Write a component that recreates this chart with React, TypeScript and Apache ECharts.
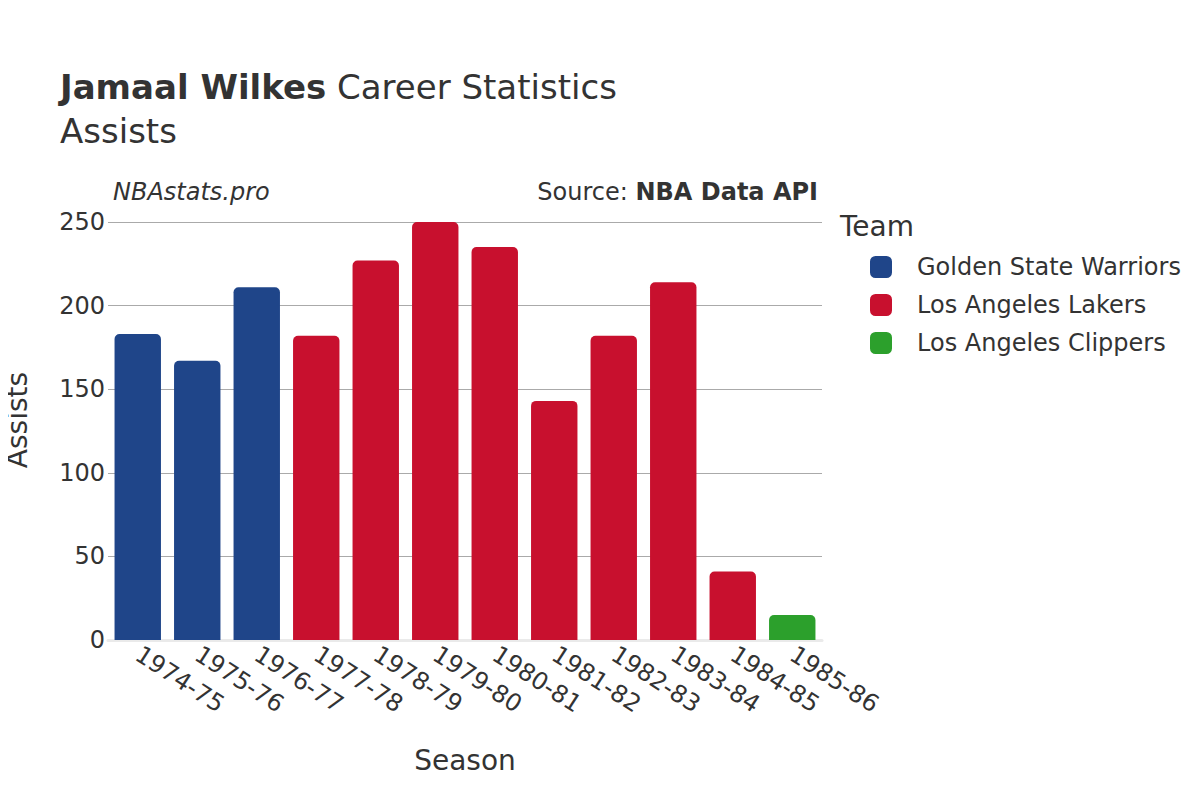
import React, { useEffect, useRef } from "react";
import * as echarts from "echarts";

const seasons = ["1974-75", "1975-76", "1976-77", "1977-78", "1978-79", "1979-80", "1980-81", "1981-82", "1982-83", "1983-84", "1984-85", "1985-86"];
const teams = ["Golden State Warriors", "Los Angeles Lakers", "Los Angeles Clippers"];
const teamColors = ["#1f4589", "#c8102e", "#2ca02c"];
const seasonTeam = [0, 0, 0, 1, 1, 1, 1, 1, 1, 1, 1, 2];
const assists = [183, 167, 211, 182, 227, 250, 235, 143, 182, 214, 41, 15];
const yTicks = [0, 50, 100, 150, 200, 250];

const FONT = "DejaVu Sans";

export default function App() {
  const ref = useRef<HTMLDivElement>(null);
  useEffect(() => {
    const chart = echarts.init(ref.current!, null, { renderer: "svg" });
    const series = teams.map((t, ti) => ({
      name: t,
      type: "bar",
      stack: "all",
      barCategoryGap: "22%",
      itemStyle: { color: teamColors[ti], borderRadius: [5, 5, 0, 0] },
      data: assists.map((v, i) => (seasonTeam[i] === ti ? v : null)),
    }));
    chart.setOption({
      animation: false,
      textStyle: { fontFamily: FONT },
      grid: { left: 108, right: 378, top: 222, bottom: 160, containLabel: false, outerBoundsMode: "none" },
      legend: {
        orient: "vertical",
        left: 865,
        top: 250,
        itemWidth: 22,
        itemHeight: 22,
        itemGap: 14,
        icon: "roundRect",
        textStyle: { fontSize: 24, color: "#333", fontFamily: FONT, padding: [0, 0, 0, 20] },
        data: teams,
      },
      xAxis: {
        type: "category",
        data: seasons,
        name: "Season",
        nameLocation: "middle",
        nameGap: 106,
        nameTextStyle: { fontSize: 28, color: "#333", fontFamily: FONT },
        axisTick: { show: false },
        axisLine: { show: true, lineStyle: { color: "#eaeaea", width: 3 } },
        axisLabel: { rotate: -33, fontSize: 24, color: "#333", fontFamily: FONT, margin: 12, interval: 0 },
      },
      yAxis: {
        type: "value",
        min: 0,
        max: 250,
        interval: 50,
        axisLabel: { fontSize: 24, color: "#333", fontFamily: FONT, margin: 3, formatter: (v: number) => (yTicks.includes(v) ? String(v) : "") },
        splitLine: { lineStyle: { color: "#aaaaaa", width: 1 } },
      },
      graphic: [
        {
          type: "text",
          left: 60,
          top: 70,
          style: {
            text: "{b|Jamaal Wilkes}{n|\u00a0Career Statistics}",
            rich: {
              b: { fontSize: 34, fontWeight: "bold", fill: "#333", fontFamily: FONT },
              n: { fontSize: 34, fill: "#333", fontFamily: FONT },
            },
          },
        },
        { type: "text", left: 60, top: 114, style: { text: "Assists", fontSize: 34, fill: "#333", fontFamily: FONT } },
        { type: "text", left: 113, top: 180, style: { text: "NBAstats.pro", fontSize: 24, fontStyle: "italic", fill: "#333", fontFamily: FONT } },
        {
          type: "text",
          right: 382,
          top: 180,
          style: {
            text: "Source: {b|NBA Data API}",
            fontSize: 24,
            fill: "#333",
            fontFamily: FONT,
            rich: { b: { fontSize: 24, fontWeight: "bold", fill: "#333", fontFamily: FONT } },
          },
        },
        { type: "text", left: 840, top: 212, style: { text: "Team", fontSize: 28, fill: "#333", fontFamily: FONT } },
        {
          type: "text",
          x: 17,
          y: 420,
          rotation: Math.PI / 2,
          style: { text: "Assists", fontSize: 28, fill: "#333", fontFamily: FONT, align: "center", verticalAlign: "middle" },
        },
      ],
      series,
    });
    return () => chart.dispose();
  }, []);
  return <div ref={ref} style={{ width: 1200, height: 800, margin: -8 }} />;
}
